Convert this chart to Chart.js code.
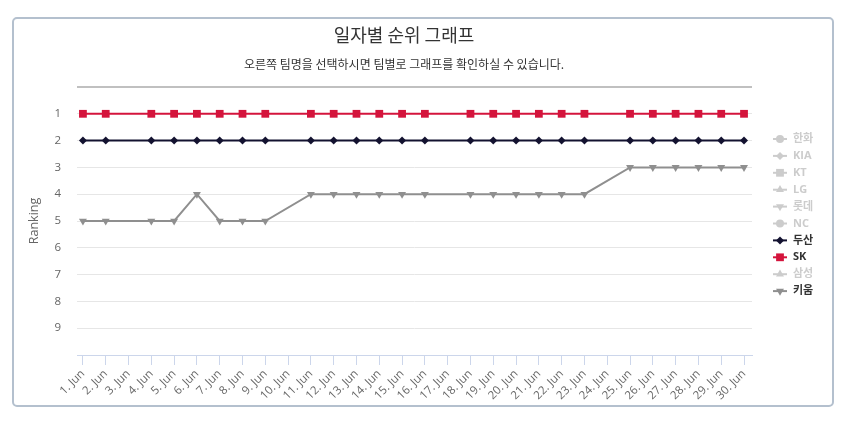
<!DOCTYPE html>
<html>
<head>
<meta charset="utf-8">
<script src="https://cdn.jsdelivr.net/npm/chart.js@4.4.1/dist/chart.umd.min.js"></script>
<style>
    body { margin: 0; background: #fff; }
    #wrap { position: relative; width: 850px; height: 427px; }
    #frame {
        position: absolute; left: 12px; top: 17px;
        width: 822px; height: 390px; box-sizing: border-box;
        border: 2px solid #b4c0ce; border-radius: 5px;
    }
    #rankChart { position: absolute; left: 0; top: 0; }
</style>
</head>
<body>
<div id="wrap">
    <div id="frame"></div>
    <canvas id="rankChart" width="850" height="427"></canvas>
</div>
<script>
// giorni di giugno (3, 10, 17, 24 = nessuna partita)
const days = [1,2,3,4,5,6,7,8,9,10,11,12,13,14,15,16,17,18,19,20,21,22,23,24,25,26,27,28,29,30];
const dayLabels = days.map(d => d + '. Jun');
const teams = ['한화', 'KIA', 'KT', 'LG', '롯데', 'NC', '두산', 'SK', '삼성', '키움'];

const doosanRank = [2,2,null,2,2,2,2,2,2,null,2,2,2,2,2,2,null,2,2,2,2,2,2,null,2,2,2,2,2,2];
const skRank     = [1,1,null,1,1,1,1,1,1,null,1,1,1,1,1,1,null,1,1,1,1,1,1,null,1,1,1,1,1,1];
const kiwoomRank = [5,5,null,5,5,4,5,5,5,null,4,4,4,4,4,4,null,4,4,4,4,4,4,null,3,3,3,3,3,3];
const rankTicks = [1,2,3,4,5,6,7,8,9];

const toPoints = arr => arr.map((v, i) => ({ x: days[i], y: v }));

const styles = [
    { style: 'circle', rot: 0 }, { style: 'rectRot', rot: 0 }, { style: 'rect', rot: 0 },
    { style: 'triangle', rot: 0 }, { style: 'triangle', rot: 180 }
];
const colors = {
    '두산': '#131230',
    'SK': '#d4143c',
    '키움': '#8f8f8f'
};
const values = {
    '두산': doosanRank,
    'SK': skRank,
    '키움': kiwoomRank
};

const datasets = teams.map((name, i) => {
    const st = styles[i % 5];
    const shown = values[name] !== undefined;
    return {
        label: name,
        data: shown ? toPoints(values[name]) : [],
        hidden: !shown,
        borderColor: shown ? colors[name] : '#cccccc',
        backgroundColor: shown ? colors[name] : '#cccccc',
        borderWidth: 2,
        pointStyle: st.style,
        pointRotation: st.rot,
        pointRadius: st.style === 'rect' ? 5.5 : (st.style === 'triangle' ? 4.6 : 4),
        pointBorderWidth: 0,
        spanGaps: true
    };
});

// legenda laterale disegnata a mano (linea + simbolo)
const sideLegend = {
    id: 'sideLegend',
    afterDraw(chart) {
        const ctx = chart.ctx;
        const x = chart.chartArea.right + 28;
        chart.data.datasets.forEach((ds, i) => {
            const y = chart.chartArea.top + 52 + i * 16.9;
            const visible = chart.isDatasetVisible(i);
            const col = visible ? ds.borderColor : '#cccccc';
            ctx.save();
            ctx.strokeStyle = col;
            ctx.lineWidth = 2;
            ctx.beginPath();
            ctx.moveTo(x - 7, y);
            ctx.lineTo(x + 7, y);
            ctx.stroke();
            ctx.fillStyle = col;
            ctx.strokeStyle = col;
            Chart.helpers.drawPoint(ctx, {
                pointStyle: ds.pointStyle,
                rotation: ds.pointRotation,
                radius: ds.pointRadius,
                borderWidth: 0
            }, x, y);
            ctx.fillStyle = visible ? '#333333' : '#cccccc';
            ctx.font = 'bold 11px "Open Sans", "Noto Sans CJK KR", sans-serif';
            ctx.textAlign = 'left';
            ctx.textBaseline = 'middle';
            ctx.fillText(ds.label, x + 13, y);
            ctx.restore();
        });
    },
    afterLayout(chart) {
        // titolo e sottotitolo centrati come nell'originale
        chart.boxes.forEach(b => {
            if (b.position === 'top' && b.options && typeof b.options.text === 'string') {
                b.left = 56;
                b.right = chart.chartArea.right;
            }
        });
    }
};

Chart.defaults.font.family = '"Open Sans", "Noto Sans CJK KR", sans-serif';
Chart.defaults.color = '#666666';

const ctx = document.getElementById('rankChart').getContext('2d');
const rankChart = new Chart(ctx, {
    type: 'line',
    data: { datasets: datasets },
    plugins: [sideLegend],
    options: {
        responsive: false,
        animation: false,
        layout: {
            padding: { top: 17, left: 23, right: 98, bottom: 22 }
        },
        plugins: {
            legend: { display: false },
            tooltip: { enabled: false },
            title: {
                display: true,
                text: '일자별 순위 그래프',
                color: '#333333',
                font: { size: 18, weight: 'normal', family: '"Noto Sans CJK KR", sans-serif' },
                padding: { top: 7, bottom: 10 }
            },
            subtitle: {
                display: true,
                text: '오른쪽 팀명을 선택하시면 팀별로 그래프를 확인하실 수 있습니다.',
                color: '#333333',
                font: { size: 12, family: '"Noto Sans CJK KR", sans-serif' },
                padding: { top: 2, bottom: 15 }
            }
        },
        scales: {
            x: {
                type: 'linear',
                min: 0.74,
                max: 30.35,
                afterBuildTicks: scale => {
                    scale.ticks = days.map(d => ({ value: d }));
                },
                afterFit: scale => { scale.height = 50; },
                ticks: {
                    autoSkip: false,
                    minRotation: 45,
                    maxRotation: 45,
                    padding: 2,
                    font: { size: 11.5 },
                    callback: (v) => dayLabels[days.indexOf(v)]
                },
                grid: {
                    drawOnChartArea: false,
                    color: '#ccd6eb',
                    tickLength: 10
                },
                border: { color: '#ccd6eb', width: 1 }
            },
            y: {
                reverse: true,
                min: 0,
                max: 10,
                afterBuildTicks: scale => {
                    scale.ticks = [0].concat(rankTicks, [10]).map(v => ({ value: v }));
                },
                afterFit: scale => { scale.width = 54; },
                ticks: {
                    padding: 16,
                    font: { size: 11.5 },
                    callback: v => rankTicks.includes(v) ? String(v) : ''
                },
                grid: {
                    drawTicks: false,
                    color: c => c.tick.value === 0 ? '#c0c0c0' : (c.tick.value === 10 ? 'rgba(0,0,0,0)' : '#e6e6e6'),
                    lineWidth: c => c.tick.value === 0 ? 2 : 1
                },
                border: { display: false },
                title: {
                    display: true,
                    text: 'Ranking',
                    font: { size: 12.5 },
                    color: '#666666'
                }
            }
        }
    }
});
</script>
</body>
</html>
